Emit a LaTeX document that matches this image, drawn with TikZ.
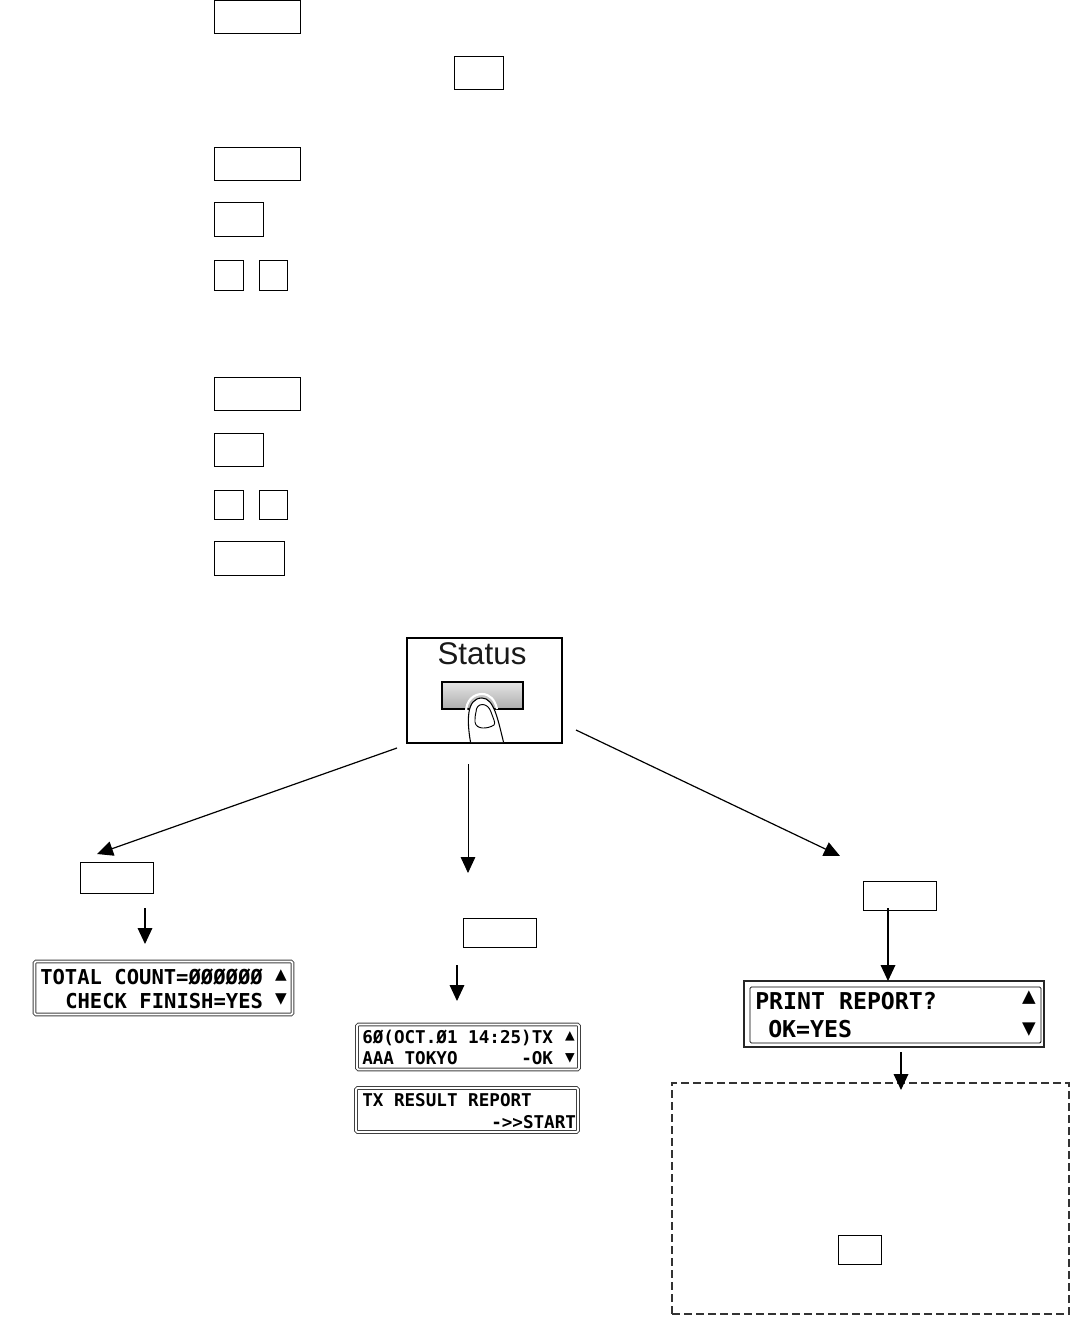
\documentclass[tikz,border=0pt]{standalone}
\usepackage{fontspec}
\setmainfont{Liberation Sans}
\newfontfamily\lcdbold{DejaVu Sans Mono Bold}
\usetikzlibrary{positioning,arrows.meta,calc}

\begin{document}
\begin{tikzpicture}[
  x=0.75pt, y=-0.75pt,
  keybox/.style args={#1x#2}{draw, line width=0.75pt, inner sep=0pt, outer sep=0pt,
              minimum width=#1*0.75pt, minimum height=#2*0.75pt},
  lcd/.style args={#1x#2}{draw=black!75, line width=0.7pt, double=white, double distance=1.3pt,
              rounded corners=1pt, inner sep=0pt, outer sep=0pt,
              minimum width=#1*0.75pt, minimum height=#2*0.75pt},
  lcdtext/.style={anchor=base west, inner sep=0pt, font=\lcdbold\fontsize{#1}{#1}\selectfont},
  arr/.style={-{Triangle[length=12pt, width=11pt]}, line width=0.9pt},
]
  \useasboundingbox (0,0) rectangle (1070,1317);

  % keys at the top
  \node[keybox=86x33] (menua) at (257,16.5) {};
  \node[keybox=49x33] (oka) at (478.5,72.5) {};
  \node[keybox=86x33] (menub) at (257,163.5) {};
  \node[keybox=49x34] (okb) at (238.5,219) {};
  \node[keybox=29x30] (upb) at (228.5,275) {};
  \node[keybox=28x30] (downb) at (273,275) {};
  \node[keybox=86x33] (menuc) at (257,393.5) {};
  \node[keybox=49x33] (okc) at (238.5,449.5) {};
  \node[keybox=29x29] (upc) at (228.5,504.5) {};
  \node[keybox=28x29] (downc) at (273,504.5) {};
  \node[keybox=70x34] (startc) at (249,558) {};

  % status key
  \node[keybox=155x105, line width=1pt] (status) at (484.5,690.5) {};
  \node[font=\fontsize{23.5}{23.5}\selectfont, text=black!90, inner sep=0pt] (statuslbl) at (482,654) {Status};
  \node[keybox=81x27, line width=1.3pt, top color=gray!20, bottom color=gray!65] (statusbtn) at (482.5,695.5) {};
  \draw[line width=0.8pt, fill=white] (470.5,742) .. controls (467,722) and (466,698) .. (482,698)
    .. controls (494,698) and (498,720) .. (503.5,742);
  \draw[white, line width=1.6pt] (466,712) .. controls (466,700) and (474,694) .. (482,694)
    .. controls (490,694) and (495,700) .. (497,709);
  \draw[line width=0.7pt] (476,712) .. controls (476,702) and (488,702) .. (491,712)
    .. controls (493,718) and (496,723) .. (494,725) .. controls (488,729) and (476,730) .. (475,722)
    .. controls (475,718) and (475,716) .. (476,712);

  % keys below the arrows
  \node[keybox=73x31] (leftkey) at (116.5,877.5) {};
  \node[keybox=73x29] (midkey) at (499.5,932.5) {};
  \node[keybox=73x29] (rightkey) at (899.5,895.5) {};

  % displays
  \node[lcd=258x53] (lcda) at (163.5,988) {};
  \node[lcdtext=15.4] (lcdaone) at (40,984) {TOTAL COUNT=ØØØØØØ};
  \node[lcdtext=15.4] (lcdatwo) at (65,1008) {CHECK FINISH=YES};
  \node[lcdtext=14.5, anchor=center] (lcdaup) at (281,975) {▲};
  \node[lcdtext=14.5, anchor=center] (lcdadown) at (281,999) {▼};

  \node[lcd=222x45] (lcdb) at (468,1047) {};
  \node[lcdtext=13.2] (lcdbone) at (362,1043) {6Ø(OCT.Ø1 14:25)TX};
  \node[lcdtext=13.2] (lcdbtwo) at (362,1064) {AAA TOKYO};
  \node[lcdtext=13.2] (lcdbok) at (521,1064) {-OK};
  \node[lcdtext=12, anchor=center] (lcdbup) at (570,1036) {▲};
  \node[lcdtext=12, anchor=center] (lcdbdown) at (570,1058) {▼};

  \node[lcd=222x44] (lcdc) at (467,1110) {};
  \node[lcdtext=13.2] (lcdcone) at (362,1106) {TX RESULT REPORT};
  \node[lcdtext=13.2] (lcdctwo) at (491,1128) {->>START};

  \node[keybox=300x66, line width=1.6pt, draw=black!85] (lcdd) at (894,1014) {};
  \node[keybox=291x56, line width=0.6pt, rounded corners=1pt] (lcddin) at (895.5,1015) {};
  \node[lcdtext=17.4] (lcddone) at (755,1009) {PRINT REPORT?};
  \node[lcdtext=17.4] (lcddtwo) at (768,1037) {OK=YES};
  \node[lcdtext=17, anchor=center] (lcddup) at (1029,998) {▲};
  \node[lcdtext=17, anchor=center] (lcdddown) at (1029,1030) {▼};

  % dashed frame
  \node[draw=black!80, dash pattern=on 6pt off 3pt, line width=0.9pt, inner sep=0pt, minimum width=397*0.75pt,
        minimum height=231*0.75pt] (notebox) at (870.5,1198.5) {};
  \node[keybox=43x29] (oknote) at (859.5,1249.5) {};

  % free ends of the arrows
  \coordinate (fromleft) at (397,748);
  \coordinate (toleft) at (97,854);
  \coordinate (frommid) at (468,764);
  \coordinate (tomid) at (468,873);
  \coordinate (fromright) at (576,730);
  \coordinate (toright) at (840,856);
  \coordinate (leftdown) at (145,908);
  \coordinate (leftend) at (145,944);
  \coordinate (middown) at (457,965);
  \coordinate (midend) at (457,1001);
  \coordinate (rightdown) at (888,908);
  \coordinate (lcddown) at (901,1052);
  \coordinate (noteend) at (901,1090);

  \draw[arr] (fromleft) -- (toleft);
  \draw[arr, line width=0.6pt] (frommid) -- (tomid);
  \draw[arr] (fromright) -- (toright);
  \draw[arr] (leftdown) -- (leftend);
  \draw[arr] (middown) -- (midend);
  \draw[arr] (rightdown) -- (rightdown |- lcdd.north);
  \draw[arr] (lcddown) -- (noteend);
\end{tikzpicture}
\end{document}
